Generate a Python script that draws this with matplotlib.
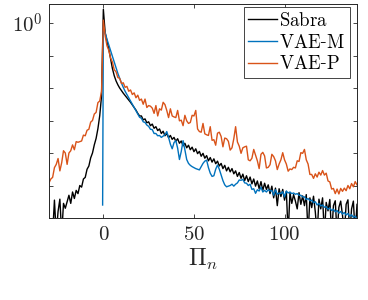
import numpy as np
import matplotlib
matplotlib.use("Agg")
import matplotlib.pyplot as plt

plt.rcParams['mathtext.fontset'] = 'cm'
plt.rcParams['font.family'] = ['DejaVu Serif']

# ---- data (log10 of PDF values) ----
sabra_x = np.arange(-30, 141)
sabra_log10 = [
    # -30 .. -1
    -6.5, -6.5, -6.5, -5.45, -6.5, -5.8, -5.42, -6.5, -5.55, -5.7,
    -5.5, -5.3, -5.55, -5.2, -5.4, -5.15, -5.25, -5.0, -5.05, -4.8,
    -4.75, -4.5, -4.4, -4.15, -4.0, -3.75, -3.55, -3.25, -2.85, -2.25,
    # 0
    0.42,
    # 1 .. 20
    -0.3, -0.55, -0.8, -1.1, -1.4, -1.62, -1.78, -1.9, -2.0, -2.08,
    -2.16, -2.23, -2.3, -2.37, -2.44, -2.52, -2.6, -2.68, -2.78, -2.86,
    # 21 .. 40
    -2.86, -2.98, -2.95, -3.07, -3.04, -3.16, -3.11, -3.24, -3.19, -3.31,
    -3.26, -3.4, -3.33, -3.47, -3.4, -3.53, -3.46, -3.58, -3.52, -3.64,
    # 41 .. 60
    -3.56, -3.7, -3.63, -3.78, -3.7, -3.84, -3.76, -3.9, -3.82, -3.96,
    -3.87, -4.02, -3.95, -4.1, -4.01, -4.16, -4.08, -4.24, -4.14, -4.28,
    # 61 .. 80
    -4.18, -4.33, -4.25, -4.4, -4.32, -4.48, -4.38, -4.55, -4.44, -4.58,
    -4.48, -4.64, -4.55, -4.72, -4.6, -4.78, -4.65, -4.85, -4.7, -4.88,
    # 81 .. 100
    -4.74, -4.95, -4.8, -5.02, -4.86, -5.1, -4.88, -5.15, -4.93, -5.12,
    -4.98, -5.25, -5.02, -5.38, -5.08, -5.62, -5.1, -5.34, -5.12, -5.45,
    # 101 .. 120
    -5.18, -6.5, -5.22, -5.55, -5.28, -5.48, -5.72, -5.22, -5.58, -5.32,
    -5.62, -5.28, -6.5, -5.38, -5.68, -5.33, -5.82, -6.5, -5.42, -5.72,
    # 121 .. 140
    -5.38, -6.5, -5.52, -5.78, -5.43, -6.5, -5.62, -5.47, -6.5, -5.67,
    -5.48, -5.92, -6.5, -5.58, -5.44, -6.5, -5.72, -5.48, -6.5, -5.58,
]

vaem_x = np.concatenate([[-0.4], np.arange(0, 141)])
vaem_log10 = [
    -5.6,
    # 0 .. 20
    -0.1,
    -0.3, -0.5, -0.68, -0.85, -1.02, -1.2, -1.38, -1.55, -1.7, -1.85,
    -1.98, -2.1, -2.2, -2.3, -2.4, -2.5, -2.6, -2.7, -2.8, -2.9,
    # 21 .. 40
    -2.93, -3.04, -3.06, -3.14, -3.18, -3.27, -3.28, -3.4, -3.4, -3.47,
    -3.46, -3.52, -3.48, -3.44, -3.34, -3.52, -3.73, -3.87, -3.68, -3.62,
    # 41 .. 60
    -3.85, -4.2, -3.95, -3.62, -3.9, -4.2, -4.32, -4.38, -4.42, -4.45,
    -4.48, -4.5, -4.52, -4.42, -4.32, -4.25, -4.22, -4.45, -4.62, -4.72,
    # 61 .. 80
    -4.7, -4.5, -4.37, -4.5, -4.68, -4.85, -4.98, -5.04, -5.02, -5.0,
    -4.96, -5.02, -4.96, -4.92, -4.83, -4.84, -4.81, -4.92, -4.93, -5.0,
    # 81 .. 100
    -4.96, -5.12, -5.1, -5.24, -5.13, -5.17, -5.05, -5.2, -5.15, -5.2,
    -5.13, -5.17, -5.15, -5.3, -5.13, -5.27, -5.23, -5.25, -5.19, -5.35,
    # 101 .. 120
    -5.17, -5.23, -5.2, -5.25, -5.23, -5.27, -5.25, -5.3, -5.3, -5.35,
    -5.35, -5.43, -5.4, -5.47, -5.45, -5.53, -5.5, -5.6, -5.55, -5.63,
    # 121 .. 140
    -5.6, -5.67, -5.65, -5.73, -5.69, -5.77, -5.73, -5.81, -5.77, -5.85,
    -5.8, -5.88, -5.83, -5.91, -5.86, -5.95, -5.9, -5.98, -5.94, -6.03,
]

vaep_x = np.arange(-30, 141)
vaep_log10 = [
    # -30 .. -1
    -4.92, -4.8, -4.75, -4.45, -4.35, -4.17, -4.55, -4.3, -3.93, -4.0,
    -4.35, -4.0, -3.93, -3.75, -3.9, -3.65, -3.67, -3.65, -3.63, -3.45,
    -3.47, -3.3, -3.27, -3.05, -3.0, -2.8, -2.75, -2.45, -2.4, -2.1,
    # 0
    0.09,
    # 1 .. 20
    -0.4, -0.7, -0.84, -1.08, -1.2, -1.44, -1.5, -1.68, -1.7, -1.86,
    -1.84, -1.98, -1.95, -2.1, -2.06, -2.2, -2.15, -2.3, -2.22, -2.38,
    # 21 .. 40
    -2.34, -2.5, -2.34, -2.6, -2.54, -2.56, -2.62, -2.78, -2.54, -2.86,
    -2.64, -2.68, -2.44, -2.51, -2.69, -2.91, -2.64, -2.86, -2.89, -2.91,
    # 41 .. 60
    -2.69, -3.01, -2.99, -3.16, -2.84, -3.01, -3.09, -3.06, -2.84, -2.86,
    -2.69, -3.26, -3.34, -3.36, -3.09, -3.41, -3.44, -3.46, -3.19, -3.61,
    # 61 .. 80
    -3.59, -3.76, -3.39, -3.36, -3.49, -3.81, -3.54, -3.56, -3.64, -3.91,
    -3.84, -3.56, -3.19, -3.66, -3.79, -4.01, -3.84, -3.81, -3.79, -4.21,
    # 81 .. 100
    -4.24, -4.16, -3.89, -4.06, -4.24, -4.48, -4.04, -3.98, -4.09, -4.46,
    -4.44, -4.36, -4.04, -4.11, -4.24, -4.51, -4.34, -4.21, -3.99, -4.21,
    # 101 .. 120
    -4.34, -4.56, -4.49, -4.51, -4.44, -4.46, -4.24, -4.26, -3.99, -4.01,
    -3.89, -4.21, -4.34, -4.66, -4.66, -4.78, -4.64, -4.74, -4.59, -4.68,
    # 121 .. 140
    -4.54, -4.68, -4.62, -4.86, -4.89, -5.11, -5.09, -5.25, -5.11, -5.26,
    -5.09, -5.18, -5.08, -5.16, -5.0, -5.1, -4.94, -5.04, -4.88, -4.98,
]

series_names = ['Sabra', 'VAE-M', 'VAE-P']
series_colors = ['black', '#0072BD', '#D95319']
xtick_values = [0, 50, 100]
ytick_values = [1e0, 1e-1, 1e-2, 1e-3, 1e-4, 1e-5, 1e-6]

# ---- figure ----
fig = plt.figure(figsize=(3.68, 3.0), dpi=100)
ax = fig.add_axes([49/368, 1-218/300, 308/368, 214/300])

for xs, ls, name, col in zip([sabra_x, vaem_x, vaep_x],
                             [sabra_log10, vaem_log10, vaep_log10],
                             series_names, series_colors):
    ax.plot(xs, 10.0 ** np.array(ls), color=col, lw=1.0, label=name)

ax.set_yscale('log')
ax.set_xlim(-30, 140)
ax.set_ylim(1e-6, 10 ** 0.585)

ax.set_xticks(xtick_values)
ax.set_xticklabels([f'${v}$' for v in xtick_values], fontsize=15)
ax.set_yticks(ytick_values)
ax.set_yticklabels(['$10^0$'] + [''] * (len(ytick_values) - 1), fontsize=15)
ax.yaxis.set_minor_locator(matplotlib.ticker.NullLocator())

ax.tick_params(axis='both', which='both', direction='in', length=3,
               width=0.6, color='#262626', top=True, right=True,
               labelcolor='#262626', pad=5)
for sp in ax.spines.values():
    sp.set_color('#262626')
    sp.set_linewidth(0.7)

ax.set_xlabel(r'$\Pi_n$', fontsize=17, color='#262626', labelpad=2)

leg = ax.legend([r'$\mathrm{Sabra}$', r'$\mathrm{VAE}$-$\mathrm{M}$', r'$\mathrm{VAE}$-$\mathrm{P}$'],
                loc='upper right', bbox_to_anchor=(0.977, 0.985),
                fontsize=13.5, fancybox=False, framealpha=1, edgecolor='#262626',
                borderaxespad=0, handlelength=1.5, handletextpad=0.15,
                labelspacing=0.2, borderpad=0.25)
leg.get_frame().set_linewidth(0.6)

fig.savefig('out.png', dpi=100)
